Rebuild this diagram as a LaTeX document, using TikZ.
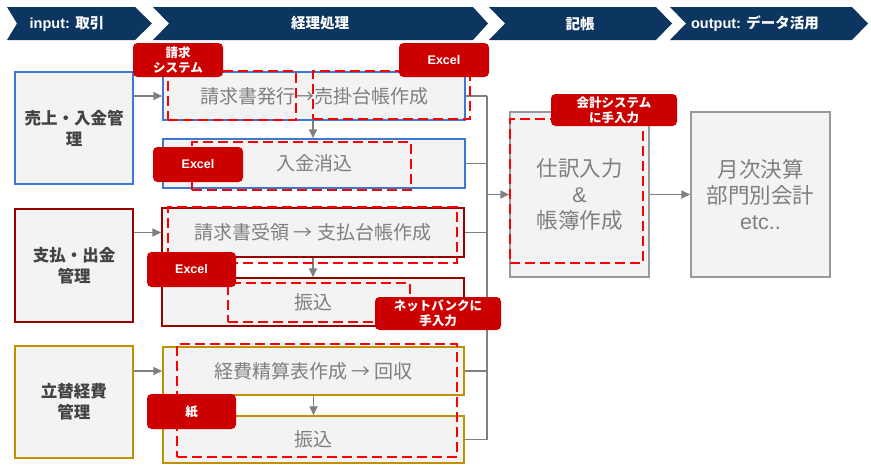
\documentclass[tikz,border=0pt]{standalone}
\usepackage{fontspec}
\setmainfont{Liberation Sans}
\newfontfamily\jp{Noto Sans CJK JP}
\usetikzlibrary{arrows.meta}
\definecolor{navy}{RGB}{12,54,96}
\definecolor{boxfill}{HTML}{F3F3F3}
\definecolor{txtgray}{HTML}{7F7F7F}
\definecolor{darktxt}{HTML}{434343}
\definecolor{blueb}{HTML}{3C78D8}
\definecolor{redb}{HTML}{990000}
\definecolor{goldb}{HTML}{BF9000}
\definecolor{grayb}{HTML}{999999}
\definecolor{tagred}{HTML}{CC0000}
\definecolor{dashred}{HTML}{FF0000}
\definecolor{conngray}{HTML}{808080}
\newcommand\chev[4]{\fill[navy] (#1,7) -- (#2,7) -- (#3,23.5) -- (#2,40) -- (#1,40) -- (#4,23.5) -- cycle;}
\begin{document}
\begin{tikzpicture}[x=1pt,y=-1pt,
  box/.style={draw, fill=boxfill, line width=1.5pt, inner sep=0pt, align=center},
  src/.style={box, text=darktxt, font=\jp\bfseries\fontsize{16.5}{21}\selectfont, minimum width=118pt, minimum height=112pt},
  mid/.style={box, text=txtgray, font=\jp\fontsize{19}{23}\selectfont, minimum width=302pt, minimum height=48pt},
  big/.style={box, draw=grayb, text=txtgray, font=\jp\fontsize{21.5}{26}\selectfont, minimum width=139pt, minimum height=165pt},
  htext/.style={text=white, font=\bfseries\fontsize{14.5}{16}\selectfont, inner sep=0pt},
  redframe/.style={draw=dashred, line width=2.8pt, dash pattern=on 10pt off 5pt, fill=none, inner sep=0pt},
  tag/.style={fill=tagred, rounded corners=4.5pt, text=white, font=\jp\bfseries\fontsize{12.5}{15}\selectfont, align=center, inner sep=0pt, minimum width=90pt, minimum height=34pt},
  conn/.style={draw=conngray, line width=1.8pt},
  arr/.style={conn, -{Triangle[length=9pt,width=8pt]}}
]
\useasboundingbox (0,0) rectangle (871,472);
% header chevrons
\chev{7}{135}{152}{17}
\chev{153}{473}{488}{169}
\chev{489}{656}{672}{505}
\chev{670}{852}{868}{686}
\node[htext] (h1) at (67,23.5) {input: {\jp 取引}};
\node[htext] (h2) at (320,23.5) {\jp 経理処理};
\node[htext] (h3) at (580,23.5) {\jp 記帳};
\node[htext] (h4) at (755,23.5) {output: {\jp データ活用}};
% source boxes
\node[src, draw=blueb] (s1) at (74,128) {売上・入金管\\理};
\node[src, draw=redb, minimum height=113pt] (s2) at (74,265.5) {支払・出金\\管理};
\node[src, draw=goldb] (s3) at (74,402) {立替経費\\管理};
% middle boxes
\node[mid, draw=blueb] (A) at (314,96) {請求書発行→売掛台帳作成};
\node[mid, draw=blueb, minimum height=49pt] (B) at (314,163.5) {入金消込};
\node[mid, draw=redb, minimum height=49pt] (C) at (313,232.5) {請求書受領 → 支払台帳作成};
\node[mid, draw=redb] (D) at (313,302) {振込};
\node[mid, draw=goldb, minimum width=301pt] (E) at (313.5,371) {経費精算表作成 → 回収};
\node[mid, draw=goldb, minimum width=301pt, minimum height=47pt] (F) at (313.5,439.5) {振込};
% right boxes
\node[big] (G) at (579.5,194.5) {仕訳入力\\{\rmfamily\&}\\帳簿作成};
\node[big] (H) at (760.5,194.5) {月次決算\\部門別会計\\{\rmfamily etc..}};
% connectors
\coordinate (btop) at (487,96);
\coordinate (bbot) at (487,439.5);
\draw[arr] (s1.east |- A.west) -- (A.west);
\draw[arr] (s2.east |- C.west) -- (C.west);
\draw[arr] (s3.east |- E.west) -- (E.west);
\draw[arr] (A.south -| 313,0) -- (B.north -| 313,0);
\draw[arr] (C.south) -- (D.north);
\draw[arr] (E.south) -- (F.north);
\foreach \n in {A,B,C,D,E,F} {\draw[conn] (\n.east) -- (\n.east -| btop);}
\draw[conn] (btop) -- (bbot);
\draw[arr] (btop |- G.west) -- (G.west);
\draw[arr] (G.east) -- (H.west);
% red dashed frames
\node[redframe, minimum width=128pt, minimum height=49pt] (d1) at (232,95.5) {};
\node[redframe, minimum width=157pt, minimum height=48pt] (d2) at (391.5,95) {};
\node[redframe, minimum width=219pt, minimum height=48pt] (d3) at (301.5,166) {};
\node[redframe, minimum width=289pt, minimum height=56pt] (d4) at (312.5,235) {};
\node[redframe, minimum width=182pt, minimum height=39pt] (d5) at (319,302.5) {};
\node[redframe, minimum width=280pt, minimum height=113pt] (d6) at (317,400.5) {};
\node[redframe, minimum width=133pt, minimum height=144pt] (d7) at (576.5,191) {};
% tags
\node[tag] (t1) at (178,60) {請求\\システム};
\node[tag] (t2) at (444,60) {{\rmfamily Excel}};
\node[tag, minimum height=35pt] (t3) at (198,164.5) {{\rmfamily Excel}};
\node[tag, minimum width=89pt, minimum height=35pt] (t4) at (191.5,269.5) {{\rmfamily Excel}};
\node[tag, minimum width=126pt, minimum height=33pt] (t5) at (438,313.5) {ネットバンクに\\手入力};
\node[tag, minimum width=89pt, minimum height=35pt] (t6) at (191.5,411.5) {紙};
\node[tag, minimum width=126pt, minimum height=32pt] (t7) at (614,110) {会計システム\\に手入力};
\end{tikzpicture}
\end{document}
